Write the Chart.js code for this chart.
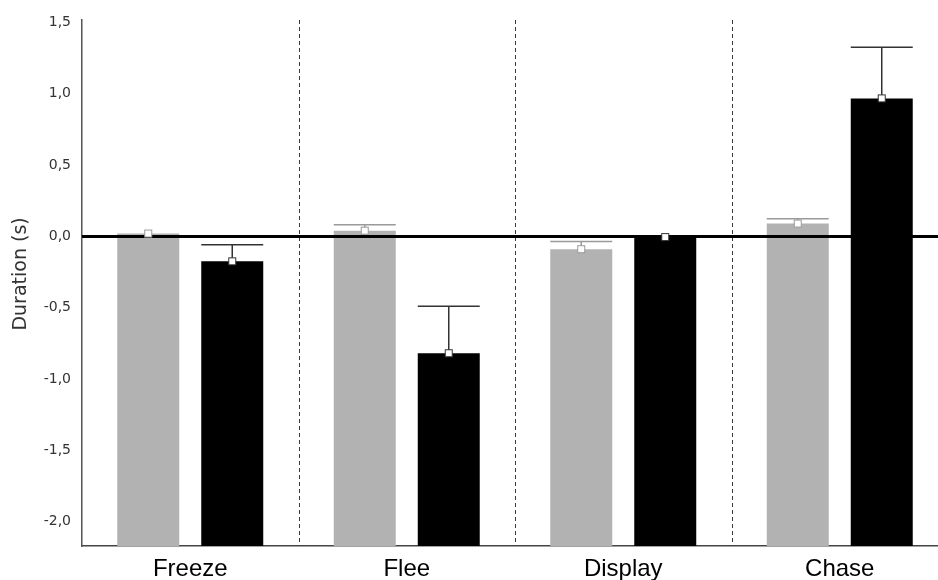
<!DOCTYPE html>
<html>
<head>
<meta charset="utf-8">
<script src="https://cdn.jsdelivr.net/npm/chart.js@4/dist/chart.umd.min.js"></script>
<style>
  html,body{margin:0;padding:0;background:#fff;overflow:hidden;}
  #clip{width:938px;height:580px;overflow:hidden;}
  /* plot runs a little past the right edge, as in the original */
  #wrap{width:948px;height:580px;position:relative;}
</style>
</head>
<body>
<div id="clip"><div id="wrap"><canvas id="chart"></canvas></div></div>
<script>
/* Duration (s) by behaviour: grey vs black groups, mean + upper SE whisker */

const CATEGORIES    = ["Freeze", "Flee", "Display", "Chase"];
const GRAY_MEAN     = [0.02, 0.04, -0.09, 0.09];
const GRAY_ERR_TOP  = [0.02, 0.082, -0.035, 0.124];
const BLACK_MEAN    = [-0.175, -0.82, -0.005, 0.968];
const BLACK_ERR_TOP = [-0.058, -0.49, 0.0, 1.326];
const Y_TICKS       = [-2.0, -1.5, -1.0, -0.5, 0.0, 0.5, 1.0, 1.5];
const Y_MIN = -2.172, Y_MAX = 1.518;

const fmt = v => v.toFixed(1).replace(".", ",");

const overlayPlugin = {
  id: "overlay",
  afterDatasetsDraw(chart){
    const { ctx, chartArea:a, scales:{ x, y } } = chart;
    ctx.save();
    // dashed separators between categories
    ctx.strokeStyle = "#3a3a3a"; ctx.lineWidth = 1; ctx.setLineDash([4,3]);
    for(let i=0;i<CATEGORIES.length-1;i++){
      const px = Math.round((x.getPixelForValue(i)+x.getPixelForValue(i+1))/2)+0.5;
      ctx.beginPath(); ctx.moveTo(px, a.top); ctx.lineTo(px, a.bottom); ctx.stroke();
    }
    ctx.setLineDash([]);
    // zero line
    const y0 = y.getPixelForValue(0);
    ctx.strokeStyle = "#000"; ctx.lineWidth = 3;
    ctx.beginPath(); ctx.moveTo(a.left, y0); ctx.lineTo(a.right, y0); ctx.stroke();
    // whiskers + mean markers
    chart.data.datasets.forEach((ds, di)=>{
      const meta = chart.getDatasetMeta(di);
      meta.data.forEach((bar, i)=>{
        const yt = y.getPixelForValue(ds.errTop[i]);
        const half = bar.width/2;
        ctx.strokeStyle = ds.whisker; ctx.lineWidth = 1.5;
        if(bar.y - yt > 1){
          ctx.beginPath();
          ctx.moveTo(bar.x, bar.y); ctx.lineTo(bar.x, yt);
          ctx.moveTo(bar.x-half, yt); ctx.lineTo(bar.x+half, yt);
          ctx.stroke();
        }
        ctx.fillStyle = "#fff"; ctx.lineWidth = 1;
        ctx.fillRect(bar.x-3.5, bar.y-3.5, 7, 7);
        ctx.strokeRect(bar.x-3.5, bar.y-3.5, 7, 7);
      });
    });
    ctx.restore();
  }
};

new Chart(document.getElementById("chart"), {
  type: "bar",
  data: {
    labels: CATEGORIES,
    datasets: [
      { label:"grey", data:GRAY_MEAN, errTop:GRAY_ERR_TOP, base:Y_MIN,
        backgroundColor:"#b2b2b2", whisker:"#9a9a9a", borderWidth:0 },
      { label:"black", data:BLACK_MEAN, errTop:BLACK_ERR_TOP, base:Y_MIN,
        backgroundColor:"#000", whisker:"#333", borderWidth:0 }
    ]
  },
  options: {
    responsive:true, maintainAspectRatio:false, animation:false,
    categoryPercentage:0.776, barPercentage:0.738,
    layout:{ padding:{ top:20, right:0, bottom:0, left:0 } },
    plugins:{ legend:{ display:false }, tooltip:{ enabled:false } },
    scales:{
      x:{
        grid:{ display:false, drawTicks:false },
        border:{ color:"#444", width:1.5 },
        ticks:{ color:"#000", padding:9, font:{ family:"'Liberation Sans', Arial, sans-serif", size:24 } },
        afterFit(s){ s.height = 34; }
      },
      y:{
        min:Y_MIN, max:Y_MAX,
        grid:{ display:false, drawTicks:false },
        border:{ color:"#555", width:1.5 },
        afterBuildTicks(s){ s.ticks = Y_TICKS.map(v=>({ value:v })); },
        ticks:{ color:"#333", padding:11, callback:v=>fmt(v),
          font:{ family:"'DejaVu Sans', sans-serif", size:14 } },
        title:{ display:true, text:"   Duration (s)", color:"#333", padding:{ top:10, bottom:0 },
          font:{ family:"'DejaVu Sans', sans-serif", size:19 } },
        afterFit(s){ s.width = 82; }
      }
    }
  },
  plugins:[overlayPlugin]
});
</script>
</body>
</html>
